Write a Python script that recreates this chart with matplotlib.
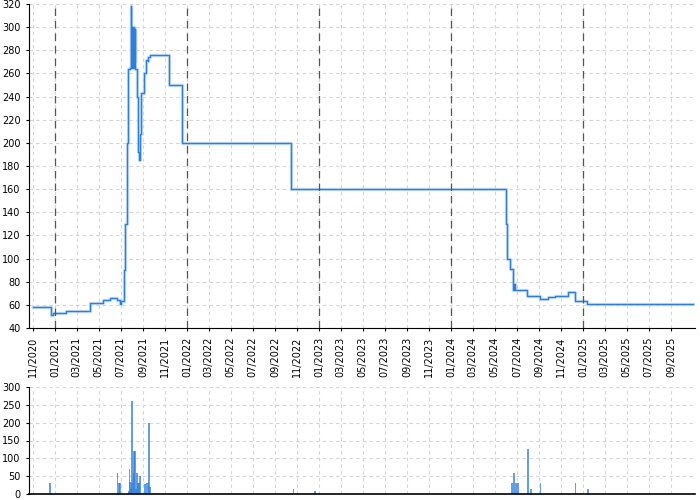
import numpy as np
import pandas as pd
import matplotlib
matplotlib.use("Agg")
import matplotlib.pyplot as plt
import matplotlib.dates as mdates

# price history (step changes)
price_dates = [
    "2020-11-01", "2020-12-21", "2020-12-26", "2021-01-30", "2021-04-08",
    "2021-05-13", "2021-06-02", "2021-06-21", "2021-06-28", "2021-07-02",
    "2021-07-09", "2021-07-10", "2021-07-11", "2021-07-12", "2021-07-13",
    "2021-07-14", "2021-07-17", "2021-07-18", "2021-07-19", "2021-07-20",
    "2021-07-21", "2021-07-27", "2021-07-29", "2021-07-30", "2021-07-31",
    "2021-08-01", "2021-08-02", "2021-08-03", "2021-08-04", "2021-08-05",
    "2021-08-06", "2021-08-07", "2021-08-08", "2021-08-09", "2021-08-14",
    "2021-08-18", "2021-08-21", "2021-08-23", "2021-08-25", "2021-08-26",
    "2021-09-04", "2021-09-08", "2021-09-10", "2021-09-13", "2021-09-15",
    "2021-09-19", "2021-11-12", "2021-12-16", "2022-10-14", "2024-05-29",
    "2024-05-31", "2024-06-03", "2024-06-12", "2024-06-21", "2024-06-23",
    "2024-06-25", "2024-07-30", "2024-09-03", "2024-09-24", "2024-10-14",
    "2024-11-20", "2024-12-10", "2025-01-10", "2025-10-31",
]
price_values = [
    58, 51, 53, 55, 62,
    64, 66, 64, 61, 63,
    63, 75, 90, 105, 120,
    130, 130, 165, 200, 235,
    264, 265, 318, 265, 300,
    266, 300, 268, 299, 265,
    300, 270, 298, 264, 240,
    192, 185, 208, 234, 243,
    260, 266, 272, 271, 274,
    276, 250, 200, 160, 160,
    130, 100, 91, 73, 78,
    73, 68, 65, 67, 68,
    71, 63, 61, 61,
]

# traded volume
vol_dates = [
    "2020-12-18", "2021-06-22", "2021-06-26", "2021-06-28", "2021-07-23",
    "2021-07-25", "2021-07-27", "2021-07-30", "2021-08-01", "2021-08-02",
    "2021-08-05", "2021-08-07", "2021-08-09", "2021-08-12", "2021-08-14",
    "2021-08-18", "2021-08-21", "2021-08-24", "2021-09-05", "2021-09-10",
    "2021-09-14", "2021-09-18", "2021-09-20", "2022-10-22", "2022-12-20",
    "2024-06-18", "2024-06-24", "2024-06-28", "2024-07-03", "2024-07-31",
    "2024-08-10", "2024-09-04", "2024-12-10", "2025-01-13",
]
vol_values = [
    30, 60, 30, 30, 8,
    70, 35, 15, 30, 262,
    60, 120, 120, 15, 60,
    30, 30, 50, 28, 30,
    30, 200, 20, 15, 8,
    30, 60, 30, 30, 125,
    15, 30, 30, 15,
]

px = pd.to_datetime(price_dates)
vx = pd.to_datetime(vol_dates)

blue = "#2f7fd8"
xlim = (pd.Timestamp("2020-10-20"), pd.Timestamp("2025-11-06"))
ticks = pd.date_range("2020-11-01", "2025-09-01", freq="2MS")
years = pd.to_datetime(["2021-01-01", "2022-01-01", "2023-01-01", "2024-01-01", "2025-01-01"])

fig = plt.figure(figsize=(7, 5), dpi=100)
ax = fig.add_axes([0.0414, 0.344, 0.9516, 0.648])
ax2 = fig.add_axes([0.0414, 0.012, 0.9516, 0.214])

for a in (ax, ax2):
    a.set_xlim(*xlim)
    a.set_xticks(ticks)
    a.grid(True, color="#d4d4d4", linestyle=(0, (3, 3)), linewidth=0.8)
    a.set_axisbelow(True)
    for s in ("top", "right"):
        a.spines[s].set_visible(False)
    a.tick_params(labelsize=7, length=2.5, width=0.8)

# price line with soft halo
ax.plot(px, price_values, drawstyle="steps-post", color="#b5d5f4", lw=2.4, alpha=0.7)
ax.plot(px, price_values, drawstyle="steps-post", color=blue, lw=1.0)
for y in years:
    ax.axvline(y, color="#555555", linestyle=(0, (6, 4)), lw=0.9)
ax.set_ylim(40, 320)
ax.set_yticks(np.arange(40, 321, 20))
ax.xaxis.set_major_formatter(mdates.DateFormatter("%m/%Y"))
plt.setp(ax.get_xticklabels(), rotation=90)

ax2.bar(vx, vol_values, width=5, color=blue, alpha=0.75, linewidth=0)
ax2.set_ylim(0, 300)
ax2.set_yticks(np.arange(0, 301, 50))
ax2.tick_params(axis="x", length=0, labelbottom=False)
ax2.spines["bottom"].set_linewidth(1.2)

fig.savefig("out.png", dpi=100)
